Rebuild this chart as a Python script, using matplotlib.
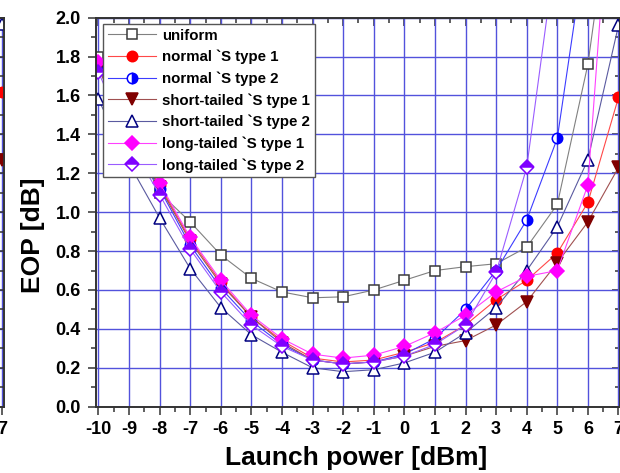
import numpy as np
import matplotlib.pyplot as plt
from matplotlib.ticker import MultipleLocator, FormatStrFormatter

plt.rcParams['font.family'] = ['Liberation Sans', 'DejaVu Sans']
plt.rcParams['font.weight'] = 'bold'
plt.rcParams['axes.unicode_minus'] = False

# potenza di lancio [dBm]
potenza = [-10, -9, -8, -7, -6, -5, -4, -3, -2, -1, 0, 1, 2, 3, 4, 5, 6, 7]

# EOP [dB] (i punti a -9 stanno sotto la legenda)
uniform = [1.80, 1.42, 1.10, 0.95, 0.78, 0.66, 0.59, 0.56, 0.565, 0.60, 0.65, 0.70, 0.72, 0.735, 0.82, 1.04, 1.76, 2.9]
normal1 = [1.76, 1.40, 1.14, 0.86, 0.64, 0.46, 0.34, 0.25, 0.23, 0.24, 0.28, 0.33, 0.42, 0.55, 0.65, 0.79, 1.05, 1.59]
normal2 = [1.75, 1.38, 1.12, 0.83, 0.61, 0.44, 0.32, 0.24, 0.22, 0.23, 0.27, 0.35, 0.50, 0.70, 0.96, 1.38, 2.45, 3.8]
short1 = [1.74, 1.39, 1.13, 0.85, 0.63, 0.46, 0.33, 0.24, 0.22, 0.23, 0.26, 0.31, 0.34, 0.42, 0.54, 0.74, 0.95, 1.23]
short2 = [1.58, 1.25, 0.97, 0.71, 0.51, 0.37, 0.28, 0.20, 0.18, 0.19, 0.225, 0.28, 0.38, 0.51, 0.70, 0.925, 1.27, 1.96]
long1 = [1.77, 1.41, 1.15, 0.87, 0.65, 0.47, 0.35, 0.27, 0.25, 0.265, 0.31, 0.38, 0.47, 0.59, 0.67, 0.70, 1.14, 3.3]
long2 = [1.72, 1.36, 1.09, 0.81, 0.59, 0.42, 0.31, 0.24, 0.22, 0.23, 0.26, 0.32, 0.42, 0.69, 1.23, 2.4, 3.5, 4.5]

# pannello a sinistra tagliato: si vedono solo i punti a 7 dBm
sx_normal1 = [1.62]
sx_short1 = [1.27]
sx_short2 = [1.97]

serie = [
    ("uniform", uniform, dict(marker='s', color='#808080', mec='#3a3a3a', mfc='white', ms=7.5)),
    ("normal `S type 1", normal1, dict(marker='o', color='#ff4848', mec='#ff0000', mfc='#ff0000', ms=7.5)),
    ("normal `S type 2", normal2, dict(marker='o', color='#3c3cff', mec='#0000ff', mfc='#0000ff',
                                       fillstyle='right', mfcalt='white', ms=7.5)),
    ("short-tailed `S type 1", short1, dict(marker='v', color='#a05050', mec='#800000', mfc='#800000', ms=8.5)),
    ("short-tailed `S type 2", short2, dict(marker='^', color='#5a5aa0', mec='#000080', mfc='white', ms=8.5)),
    ("long-tailed `S type 1", long1, dict(marker='D', color='#ff40ff', mec='#ff00ff', mfc='#ff00ff', ms=7)),
    ("long-tailed `S type 2", long2, dict(marker='D', color='#9a5cff', mec='#7f00ff', mfc='#7f00ff',
                                           fillstyle='top', mfcalt='white', ms=7)),
]

W, H = 620, 473
fig = plt.figure(figsize=(W / 100, H / 100), dpi=100)

x0, y0, y1 = 96, 406.7, 17.7
wpx = 524
ax = fig.add_axes([x0 / W, (H - y0) / H, wpx / W, (y0 - y1) / H])
ax0 = fig.add_axes([(4 - wpx) / W, (H - y0) / H, wpx / W, (y0 - y1) / H])

grid_col = '#5252dc'
spine_col = '#333333'


def stile(a):
    a.set_xlim(-10.08, 7.05)
    a.set_ylim(0, 2.0)
    a.xaxis.set_major_locator(MultipleLocator(1))
    a.xaxis.set_minor_locator(MultipleLocator(0.5))
    a.yaxis.set_major_locator(MultipleLocator(0.2))
    a.yaxis.set_minor_locator(MultipleLocator(0.1))
    a.yaxis.set_major_formatter(FormatStrFormatter('%.1f'))
    a.grid(True, which='major', color=grid_col, linewidth=1.0)
    a.set_axisbelow(True)
    for s in a.spines.values():
        s.set_color(spine_col)
        s.set_linewidth(1.4)
    a.tick_params(which='both', colors=spine_col, labelcolor='black', width=1.1, labelsize=13)
    a.tick_params(which='major', length=6)
    a.tick_params(which='minor', length=3.5)


stile(ax)
stile(ax0)

for nome, y, st in serie:
    ax.plot(potenza, y, linewidth=0.8, label=nome, mew=1.1, **st)

ax.tick_params(axis='both', which='both', direction='out')
ax.tick_params(axis='x', pad=4)
ax.tick_params(axis='y', pad=5)

# tacche interne su lato alto e destro
top = ax.secondary_xaxis('top')
top.xaxis.set_major_locator(MultipleLocator(1))
top.xaxis.set_minor_locator(MultipleLocator(0.5))
top.tick_params(which='both', direction='in', labeltop=False, colors=spine_col, width=1.1)
top.tick_params(which='major', length=6)
top.tick_params(which='minor', length=3.5)
dx = ax.secondary_yaxis('right')
dx.yaxis.set_major_locator(MultipleLocator(0.2))
dx.yaxis.set_minor_locator(MultipleLocator(0.1))
dx.tick_params(which='both', direction='in', labelright=False, colors=spine_col, width=1.1)
dx.tick_params(which='major', length=6)
dx.tick_params(which='minor', length=3.5)

ax.set_xlabel("Launch power [dBm]", fontsize=19, fontweight='bold', va='center')
ax.set_ylabel("EOP [dB]", fontsize=19, fontweight='bold', va='center')
ax.xaxis.set_label_coords(0.496, -0.131)
ax.yaxis.set_label_coords(-0.12, 0.44)

leg = ax.legend(loc='upper left', bbox_to_anchor=(103 / W, 1 - 24 / H), bbox_transform=fig.transFigure,
                borderaxespad=0, fontsize=10.8, handlelength=3.2, handletextpad=0.45,
                labelspacing=0.48, borderpad=0.3, fancybox=False, framealpha=1)
leg.get_frame().set_edgecolor('#555555')
leg.get_frame().set_linewidth(1.0)

# pannello di sinistra (solo il bordo)
ax0.plot([7], sx_short2, linestyle='', **serie[4][2], mew=1.1)
ax0.plot([7], sx_normal1, linestyle='', **serie[1][2], mew=1.1)
ax0.plot([7], sx_short1, linestyle='', **serie[3][2], mew=1.1)
ax0.tick_params(axis='y', which='both', direction='in', left=False, right=True, labelleft=False)
ax0.tick_params(axis='x', which='both', direction='out', pad=4)

fig.savefig("out.png", dpi=100)
